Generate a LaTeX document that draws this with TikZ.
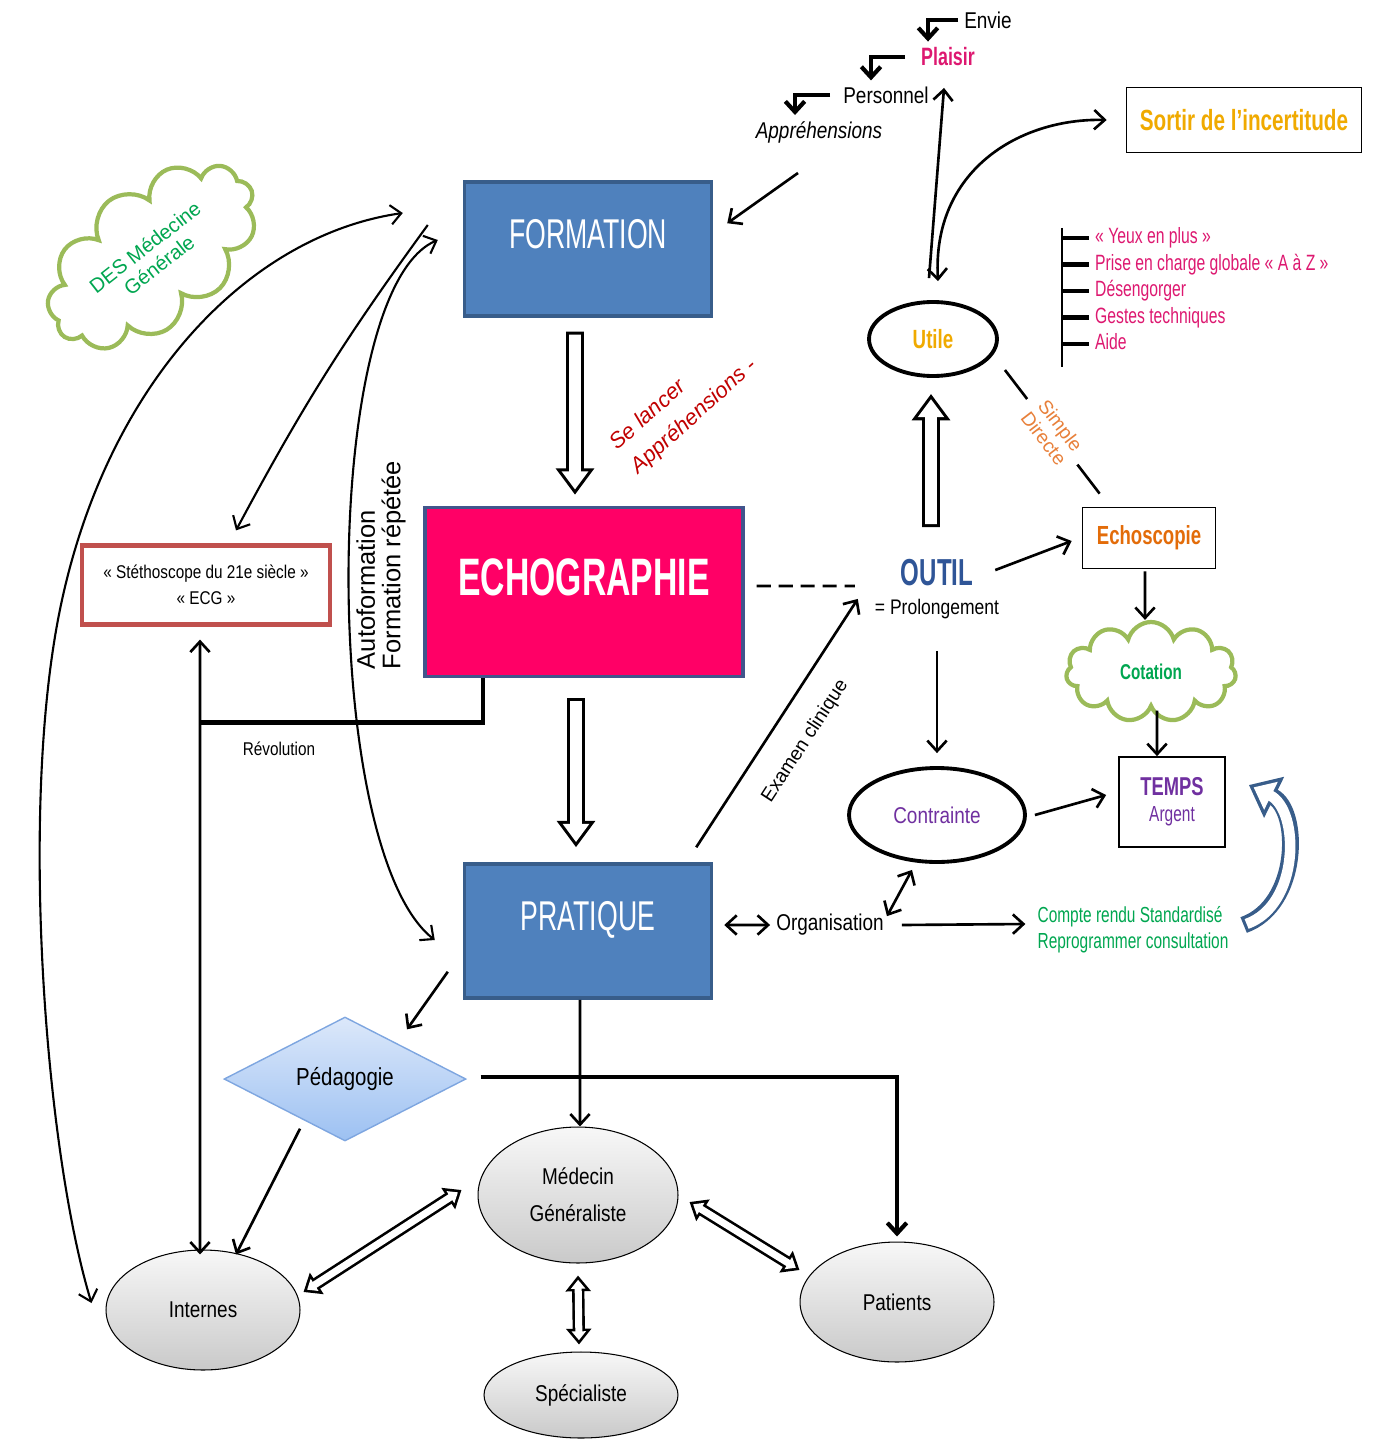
\documentclass[tikz,border=0pt]{standalone}
\usepackage{fontspec}
\setmainfont{Liberation Sans}[FakeStretch=0.83]
\newfontfamily\widefont{Liberation Sans}
\newfontfamily\narrowfont{Liberation Sans}[FakeStretch=0.71]
\newfontfamily\tallfont{Liberation Sans}[FakeStretch=0.64]
\usepackage{xcolor}
\usepackage{tikz}
\usetikzlibrary{positioning}
\usetikzlibrary{arrows.meta}
\usetikzlibrary{shapes.geometric}
\usetikzlibrary{shapes.symbols}
\definecolor{boxblue}{HTML}{4F81BD}
\definecolor{boxedge}{HTML}{385D8A}
\definecolor{echopink}{HTML}{FF0066}
\definecolor{echoedge}{HTML}{41558C}
\definecolor{pinktext}{HTML}{DD1870}
\definecolor{goldtext}{HTML}{F0AA00}
\definecolor{orangetext}{HTML}{E36C09}
\definecolor{lightorange}{HTML}{E8803A}
\definecolor{greentext}{HTML}{00A650}
\definecolor{cloudgreen}{HTML}{9BBB59}
\definecolor{purpletext}{HTML}{7030A0}
\definecolor{outilblue}{HTML}{2F5597}
\definecolor{darkred}{HTML}{C00000}
\definecolor{stethred}{HTML}{C0504D}
\definecolor{diamondtop}{HTML}{DCE8FA}
\definecolor{diamondbottom}{HTML}{9DC1F2}
\definecolor{diamondedge}{HTML}{7EA6E0}
\newcommand{\fs}[2]{\fontsize{#1}{#2}\selectfont}
\tikzset {
  % open arrow heads
  >={Straight Barb[length=6pt,width=11pt]},
  txt/.style={font=\fs{13}{15}},
  link/.style={line width=1.5pt},
  curve/.style={line width=1.2pt},
  heavy/.style={line width=2.4pt},
  dashline/.style={line width=1.6pt, dash pattern=on 8pt off 4.5pt},
  % the three big boxes
  bigbox/.style={draw=boxedge, line width=2pt, fill=boxblue, minimum width=4.94cm, minimum height=2.68cm},
  boxtitle/.style={text=white, font=\tallfont\fs{23.7}{26}},
  % grey actors at the bottom
  actor/.style={draw, ellipse, line width=0.6pt, top color=gray!6, bottom color=gray!42, font=\fs{13}{21}, align=center},
  % black ellipses on the right
  oval/.style={draw, ellipse, line width=2.2pt, fill=white},
  plainbox/.style={draw, line width=1pt, fill=white, align=center},
  puff/.style={draw=cloudgreen, cloud, cloud puffs=11, cloud ignores aspect, line width=2.4pt, fill=white, text=greentext},
  listitem/.style={anchor=west, text=pinktext, font=\narrowfont\fs{12.6}{14}, text height=1.6ex, text depth=0.4ex},
  % hollow block arrows
  fat/.style={draw=white, line width=6.6pt, shorten >=2.96pt, shorten <=1.7pt, -{Triangle[length=10.3pt,width=14.4pt]},
    preaction={draw=black, line width=10pt, shorten >=0pt, shorten <=0pt, -{Triangle[length=15pt,width=21pt]}}},
  slim/.style={draw=white, line width=4pt, shorten >=2.44pt, shorten <=2.44pt,
    {Triangle[length=5.06pt,width=7.9pt]}-{Triangle[length=5.06pt,width=7.9pt]},
    preaction={draw=black, line width=7pt, shorten >=0pt, shorten <=0pt,
    {Triangle[length=9pt,width=14pt]}-{Triangle[length=9pt,width=14pt]}}},
  bluefat/.style={draw=white, line width=6pt, shorten >=3pt, shorten <=1.8pt, -{Triangle[length=11pt,width=17pt]},
    preaction={draw=boxedge, line width=9.6pt, shorten >=0pt, shorten <=0pt, -{Triangle[length=16pt,width=25pt]}}},
}

\begin{document}
\begin{tikzpicture}[x=0.02cm, y=-0.02cm]
  \useasboundingbox (0,0) rectangle (1373,1439);

  \node[bigbox, text depth=0.6cm, boxtitle] (f) at (588,249) {FORMATION};
  \node[bigbox, draw=echoedge, fill=echopink, minimum width=6.36cm, minimum height=3.38cm,
    text depth=0.6cm, text=white, font=\tallfont\bfseries\fs{30}{32}] (e) at (584,592) {ECHOGRAPHIE};
  \node[bigbox, text depth=0.6cm, boxtitle] (p) at (588,931) {PRATIQUE};

  \node[txt] (env) at (988,20) {Envie};
  \node[txt, text=pinktext, font=\narrowfont\bfseries\fs{14.3}{16}] (pla) at (948,57) {Plaisir};
  \node[txt] (pers) at (886,95) {Personnel};
  \node[txt, font=\itshape\fs{13}{15}] (appr) at (819,132) {Appréhensions};
  \node[rotate=42, align=left, text=darkred, font=\widefont\itshape\fs{12.5}{18}] (sel) at (684,405) {Se lancer\\Appréhensions -};

  \node[align=center, font=\fs{12}{16.4}] (out) at (937,589) {{\tallfont\bfseries\fs{21.4}{16.4}\color{outilblue}OUTIL}\\= Prolongement};
  \node[oval, minimum width=2.56cm, minimum height=1.48cm, text=goldtext, font=\narrowfont\bfseries\fs{15}{16}] (u) at (933,339) {Utile};
  \node[oval, minimum width=3.52cm, minimum height=1.88cm, text=purpletext, font=\fs{13}{15}] (con) at (937,815) {Contrainte};
  \node[plainbox, minimum width=4.7cm, minimum height=1.3cm, text=goldtext, font=\narrowfont\bfseries\fs{16.6}{18}] (so) at (1244,120) {Sortir de l’incertitude};
  \node[plainbox, minimum width=2.66cm, minimum height=1.22cm, text=orangetext, font=\narrowfont\bfseries\fs{14.9}{16}] (ech) at (1149,538) {Echoscopie};
  \node[puff, minimum width=3.4cm, minimum height=2cm, font=\narrowfont\bfseries\fs{12.2}{14}] (cot) at (1151,672) {Cotation};
  \node[plainbox, minimum width=2.12cm, minimum height=1.8cm, text=purpletext, font=\narrowfont\fs{12.4}{15}] (tps) at (1172,802) {{\bfseries\fs{14.7}{15}TEMPS}\\Argent};
  \node[txt] (org) at (830,925) {Organisation};
  \node[align=left, text=greentext, font=\narrowfont\fs{12.4}{14.7}] (cr) at (1133,930) {Compte rendu Standardisé\\Reprogrammer consultation};

  \coordinate (bar) at (1062,228);
  \foreach \item [count=\i] in {« Yeux en plus », Prise en charge globale « A à Z », Désengorger, Gestes techniques, Aide} {
    \node[listitem] (l\i) at (1089,211.5+26.5*\i) {\item};
    \draw[line width=2.8pt] (l\i.west -| bar) -- (l\i.west);
  }
  \draw[link] (bar) -- ([yshift=-0.46cm]l5.west -| bar);

  \node[puff, rotate=38, minimum width=4.8cm, minimum height=2.8cm, align=center, font=\widefont\fs{11.5}{13}] (des) at (152,256) {DES Médecine\\Générale};
  \node[plainbox, draw=stethred, line width=2.4pt, minimum width=4.96cm, minimum height=1.58cm, font=\fs{10.5}{15}] (st) at (206,585) {« Stéthoscope du 21e siècle »\\« ECG »};
  \node[font=\fs{10.5}{12}] (rev) at (279,749) {Révolution};
  \node[rotate=90, align=left, font=\widefont\fs{14.5}{14.5}] (auto) at (381,565) {Autoformation\\Formation répétée};

  \node[draw=diamondedge, diamond, aspect=1.95, minimum width=4.84cm, minimum height=2.48cm, inner sep=0pt,
    top color=diamondtop, bottom color=diamondbottom, line width=0.8pt, font=\fs{14}{16}] (ped) at (345,1079) {Pédagogie};
  \node[actor, minimum width=4cm, minimum height=2.72cm] (med) at (578,1195) {Médecin\\Généraliste};
  \node[actor, minimum width=3.88cm, minimum height=2.4cm] (int) at (203,1310) {Internes};
  \node[actor, minimum width=3.88cm, minimum height=2.4cm] (pat) at (897,1302) {Patients};
  \node[actor, minimum width=3.88cm, minimum height=1.72cm] (spe) at (581,1395) {Spécialiste};

  \coordinate (fa) at ([xshift=-1.2cm,yshift=0.72cm]f.west);
  \coordinate (fb) at ([xshift=-0.7cm,yshift=0.48cm]f.west);
  \coordinate (fc) at ([xshift=-0.5cm,yshift=0.18cm]f.west);

  \draw[fat] ([xshift=-0.26cm,yshift=-0.28cm]f.south) -- ([xshift=-0.18cm,yshift=0.22cm]e.north);
  \draw[fat] ([xshift=-0.16cm,yshift=-0.4cm]e.south) -- ([xshift=-0.24cm,yshift=0.3cm]p.north);
  \draw[fat] ([xshift=-0.12cm,yshift=0.52cm]out.north) -- ([xshift=-0.04cm,yshift=-0.32cm]u.south);
  \draw[dashline] ([xshift=0.24cm,yshift=0.12cm]e.east) -- ([xshift=-0.28cm,yshift=0.06cm]out.west);

  \draw[->, heavy] (env.west) -| ([xshift=-0.4cm]pla.north);
  \draw[->, heavy] ([xshift=-0.2cm]pla.west) -| ([xshift=-0.3cm]pers.north);
  \draw[->, heavy] ([xshift=-0.14cm]pers.west) -| ([xshift=-0.48cm]appr.north);
  \draw[->, link] ([xshift=-0.42cm,yshift=-0.48cm]appr.south) -- ([xshift=0.28cm,yshift=-0.86cm]f.north east);
  \draw[->, link] ([xshift=-0.08cm,yshift=0.44cm]u.north) -- ([xshift=-0.08cm,yshift=-0.31cm]pla.south);
  \draw[<->, link] ([xshift=0.1cm,yshift=0.38cm]u.north) .. controls (932,170) and (1020,118) .. ([xshift=-0.38cm]so.west);
  \draw[link] ([xshift=0.12cm,yshift=-0.62cm]u.east) -- node[sloped, fill=white, inner xsep=6pt, align=center,
    text=lightorange, font=\widefont\fs{11}{12}] (sd) {Simple\\Directe} ([xshift=0.36cm,yshift=0.26cm]ech.north west);

  \draw[->, link] ([xshift=-0.2cm,yshift=-0.34cm]out.north east) -- ([xshift=-0.2cm,yshift=-0.06cm]ech.west);
  \draw[->, link] ([yshift=-0.52cm]out.south) -- ([yshift=0.26cm]con.north);
  \draw[->, link] ([xshift=-0.34cm,yshift=0.3cm]p.north east) -- node[sloped, below=10pt, font=\widefont\fs{11}{12}] (ex) {Examen clinique}
    ([xshift=-0.22cm,yshift=0.52cm]out.south west);
  \draw[->, link] ([xshift=-0.08cm,yshift=-0.04cm]ech.south) -- ([xshift=-0.12cm]cot.north);
  \draw[->, link] ([xshift=0.12cm]cot.south) -- ([xshift=-0.3cm]tps.north);
  \draw[->, link] ([xshift=0.16cm]con.east) -- ([xshift=-0.24cm,yshift=0.14cm]tps.west);
  \draw[<->, link] ([xshift=0.22cm,yshift=0.12cm]p.east) -- (org.west);
  \draw[<->, link] ([xshift=-0.06cm,yshift=-0.16cm]org.north east) -- ([xshift=-0.5cm,yshift=-0.12cm]con.south);
  \draw[->, link] ([xshift=0.24cm]org.east) -- ([xshift=-0.12cm,yshift=0.12cm]cr.west);
  \draw[bluefat] ([xshift=0.18cm,yshift=0.1cm]cr.east) .. controls (1300,905) and (1300,810) .. ([xshift=0.46cm,yshift=0.34cm]tps.east);

  \draw[<->, curve] (fa) .. controls (250,235) and (110,380) .. (62,600) .. controls (18,800) and (45,1150) .. ([xshift=-0.28cm,yshift=0.14cm]int.west);
  \draw[->, curve] (fb) to[bend right=4] ([xshift=0.6cm,yshift=0.26cm]st.north);
  \draw[<->, curve] (fc) .. controls (320,290) and (320,850) .. ([xshift=-0.56cm,yshift=-0.18cm]p.west);

  \draw[heavy] ([xshift=1.2cm]e.south west) |- ([xshift=-0.12cm,yshift=-1.92cm]st.south);
  \draw[<->, link] ([xshift=-0.12cm,yshift=-0.26cm]st.south) -- ([xshift=-0.06cm,yshift=-0.1cm]int.north);

  \draw[->, link] ([xshift=-0.3cm,yshift=0.56cm]p.south west) -- ([xshift=1.24cm,yshift=-0.26cm]ped.north);
  \draw[->, link] ([xshift=-0.9cm,yshift=0.26cm]ped.south) -- ([xshift=0.66cm,yshift=-0.1cm]int.north);
  \draw[->, heavy] ([xshift=0.28cm,yshift=0.04cm]ped.east) -| ([yshift=0.1cm]pat.north);
  \draw[->, link] ([xshift=-0.16cm]p.south) -- ([xshift=0.04cm]med.north);
  \draw[slim] ([xshift=0.06cm,yshift=0.36cm]int.east) -- ([xshift=-0.32cm,yshift=0.1cm]med.west);
  \draw[slim] ([xshift=0.22cm,yshift=-0.14cm]med.east) -- ([yshift=0.64cm]pat.west);
  \draw[slim] ([yshift=-0.24cm]med.south) -- ([xshift=-0.04cm,yshift=0.14cm]spe.north);
\end{tikzpicture}
\end{document}
